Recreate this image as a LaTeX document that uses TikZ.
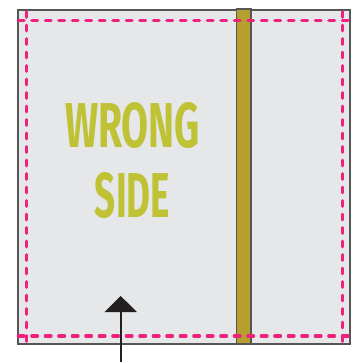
\documentclass[tikz,border=0pt]{standalone}
\usepackage{fontspec}
\newfontfamily\wsfont{Fira Sans}
\usetikzlibrary{arrows.meta}
\definecolor{bggray}{HTML}{E6E7E9}
\definecolor{edgegray}{HTML}{555555}
\definecolor{stripcol}{HTML}{B59F2F}
\definecolor{pinkline}{HTML}{F0207F}
\definecolor{textcol}{HTML}{BFC234}
\definecolor{arrowcol}{HTML}{231F20}
\tikzset{
  seam/.style={pinkline, line width=3.4pt, line cap=round, dash pattern=on 5.6pt off 7.9pt},
  lbl/.style={inner sep=0pt, text=textcol, font=\wsfont\bfseries},
}
\begin{document}
\begin{tikzpicture}[x=1pt,y=-1pt]
\useasboundingbox (0,0) rectangle (354,362);
\fill[white] (0,0) rectangle (354,362);
% fabric
\draw[edgegray, line width=1.5pt, fill=bggray] (18,10) rectangle (350,344);
% strip
\draw[edgegray, line width=1.5pt, fill=stripcol] (236.7,9) rectangle (251,344);
% seam lines
\draw[seam] (18.4,20.7) -- (353,20.7);
\draw[seam] (18.4,336) -- (353,336);
\draw[seam] (26.7,11.7) -- (26.7,346);
\draw[seam] (342.3,11.7) -- (342.3,346);
% text
\node[lbl] (wrong) at (132.5,125.5) {\resizebox{135pt}{45pt}{WRONG}};
\node[lbl] (side) at (132.5,195.5) {\resizebox{75pt}{45pt}{SIDE}};
% arrow
\coordinate (abot) at (120.7,362);
\coordinate (atip) at (120.7,296);
\draw[arrowcol, line width=2pt, -{Triangle[width=32pt,length=16pt]}] (abot) -- (atip);
\end{tikzpicture}
\end{document}
